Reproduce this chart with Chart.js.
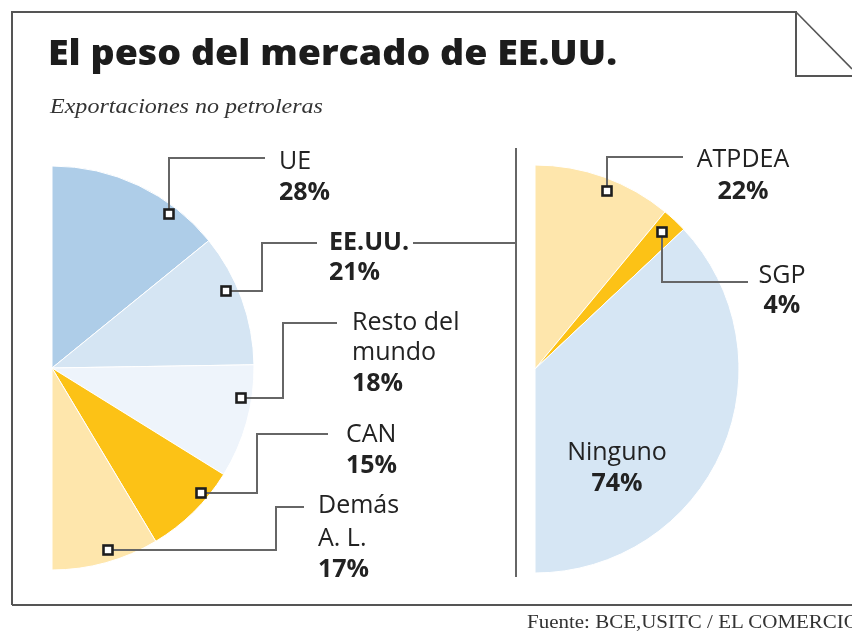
<!DOCTYPE html>
<html>
<head>
<meta charset="utf-8">
<script src="https://cdn.jsdelivr.net/npm/chart.js@4"></script>
<style>
  html, body { margin: 0; padding: 0; background: #fff; }
  #page { position: relative; width: 852px; height: 633px; overflow: hidden; background: #fff; }
  canvas { position: absolute; }
  #overlay { position: absolute; left: 0; top: 0; pointer-events: none; }
</style>
</head>
<body>
<div id="page">
  <canvas id="leftPie" width="222" height="424" style="left:42px;top:156px;"></canvas>
  <canvas id="rightPie" width="224" height="428" style="left:525px;top:155px;"></canvas>
  <svg id="overlay" width="852" height="633" xmlns="http://www.w3.org/2000/svg"></svg>
</div>
<script>
// ---------- data ----------
const leftCategories = ['UE', 'EE.UU.', 'Resto del mundo', 'CAN', 'Demás A. L.'];
const leftValues = [28, 21, 18, 15, 17];
const rightCategories = ['ATPDEA', 'SGP', 'Ninguno'];
const rightValues = [22, 4, 74];

const titleText = 'El peso del mercado de EE.UU.';
const subtitleText = 'Exportaciones no petroleras';
const sourceText = 'Fuente: BCE,USITC / EL COMERCIO';

// ---------- styles ----------
const leftColors = ['#aecde8', '#d5e5f3', '#eef4fb', '#fcc216', '#fee6ac'];
const rightColors = ['#fee6ac', '#fcc216', '#d6e6f4'];

function halfPie(id, labels, values, colors, radius) {
  return new Chart(document.getElementById(id), {
    type: 'pie',
    data: {
      labels: labels,
      datasets: [{
        data: values,
        backgroundColor: colors,
        borderColor: '#ffffff',
        borderWidth: 1
      }]
    },
    options: {
      responsive: false,
      animation: false,
      rotation: 0,
      circumference: 180,
      radius: radius,
      layout: { padding: 0 },
      events: [],
      plugins: { legend: { display: false }, tooltip: { enabled: false } }
    }
  });
}
halfPie('leftPie', leftCategories, leftValues, leftColors, 202);
halfPie('rightPie', rightCategories, rightValues, rightColors, 204);

// ---------- annotations (SVG overlay) ----------
const svg = document.getElementById('overlay');
const NS = 'http://www.w3.org/2000/svg';
function el(tag, attrs, text) {
  const e = document.createElementNS(NS, tag);
  for (const k in attrs) e.setAttribute(k, attrs[k]);
  if (text !== undefined) e.textContent = text;
  svg.appendChild(e);
  return e;
}

// frame with folded corner
el('path', { d: 'M12,605 L12,12 L796,12 L796,76 L852,76', fill: 'none', stroke: '#555', 'stroke-width': 2 });
el('path', { d: 'M796,12 L852,69', fill: 'none', stroke: '#555', 'stroke-width': 1.6 });
el('path', { d: 'M12,605 L852,605', fill: 'none', stroke: '#555', 'stroke-width': 2 });

// divider + connector
el('path', { d: 'M516,148 L516,577', fill: 'none', stroke: '#666', 'stroke-width': 2 });
el('path', { d: 'M413,243 L516,243', fill: 'none', stroke: '#666', 'stroke-width': 2 });

// titles
el('text', { x: 48, y: 65, 'font-family': 'Open Sans', 'font-weight': 800, 'font-size': 35, fill: '#1c1c1c',
  textLength: 569, lengthAdjust: 'spacingAndGlyphs' }, titleText);
el('text', { x: 50, y: 113, 'font-family': 'Liberation Serif', 'font-style': 'italic', 'font-size': 20, fill: '#333',
  textLength: 273, lengthAdjust: 'spacingAndGlyphs' }, subtitleText);
el('text', { x: 527, y: 628, 'font-family': 'Liberation Serif', 'font-size': 18, fill: '#333',
  textLength: 332, lengthAdjust: 'spacingAndGlyphs' }, sourceText);

// leader lines and label layout
const leftLayout = [
  { pts: [[169, 214], [169, 158], [265, 158]], x: 279, lines: [169], pct: 200, anchor: 'start', boldName: false, split: ['UE'] },
  { pts: [[226, 291], [262, 291], [262, 243], [317, 243]], x: 329, lines: [250], pct: 280, anchor: 'start', boldName: true, split: ['EE.UU.'] },
  { pts: [[241, 398], [283, 398], [283, 323], [337, 323]], x: 352, lines: [330, 360], pct: 391, anchor: 'start', boldName: false, split: ['Resto del', 'mundo'] },
  { pts: [[201, 493], [257, 493], [257, 434], [328, 434]], x: 346, lines: [442], pct: 473, anchor: 'start', boldName: false, split: ['CAN'] },
  { pts: [[108, 550], [276, 550], [276, 507], [304, 507]], x: 318, lines: [513, 546], pct: 577, anchor: 'start', boldName: false, split: ['Demás', 'A. L.'] }
];
const rightLayout = [
  { pts: [[607, 191], [607, 157], [683, 157]], x: 743, lines: [167], pct: 199, anchor: 'middle', boldName: false, split: ['ATPDEA'] },
  { pts: [[662, 232], [662, 282], [748, 282]], x: 782, lines: [283], pct: 313, anchor: 'middle', boldName: false, split: ['SGP'] },
  { pts: null, x: 617, lines: [460], pct: 491, anchor: 'middle', boldName: false, split: ['Ninguno'] }
];

function drawLabels(categories, values, layout) {
  categories.forEach((cat, i) => {
    const L = layout[i];
    if (L.pts) {
      el('polyline', { points: L.pts.map(p => p.join(',')).join(' '), fill: 'none', stroke: '#666', 'stroke-width': 2 });
    }
    L.split.forEach((line, j) => {
      el('text', { x: L.x, y: L.lines[j], 'font-family': 'Open Sans', 'font-size': 25,
        'font-weight': L.boldName ? 700 : 400, fill: '#222', 'text-anchor': L.anchor }, line);
    });
    el('text', { x: L.x, y: L.pct, 'font-family': 'Open Sans', 'font-size': 25, 'font-weight': 700,
      fill: '#222', 'text-anchor': L.anchor }, values[i] + '%');
  });
  layout.forEach(L => {
    if (L.pts) {
      const [cx, cy] = L.pts[0];
      el('rect', { x: cx - 4.5, y: cy - 4.5, width: 9, height: 9, fill: '#fff', stroke: '#1e1e1e', 'stroke-width': 2.6 });
    }
  });
}
drawLabels(leftCategories, leftValues, leftLayout);
drawLabels(rightCategories, rightValues, rightLayout);
</script>
</body>
</html>
